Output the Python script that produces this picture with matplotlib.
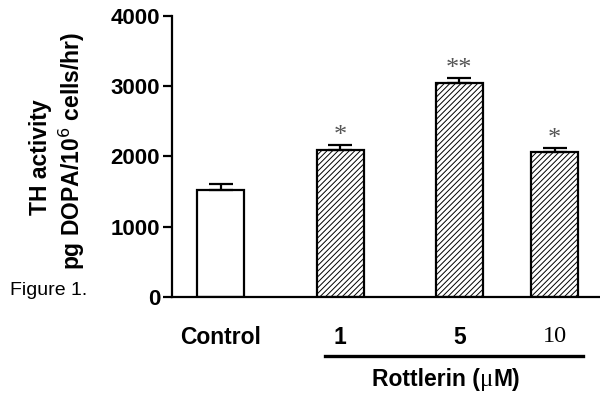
import matplotlib
matplotlib.use("Agg")
import matplotlib.pyplot as plt
from matplotlib import transforms

plt.rcParams['font.family'] = ['Liberation Sans', 'DejaVu Sans']
plt.rcParams['hatch.linewidth'] = 0.7
plt.rcParams['hatch.color'] = '#333333'

groups = ['Control', '1', '5', '10']
activity = [1520, 2090, 3040, 2070]
sem = [95, 77, 76, 47]
stars = ['', '*', '**', '*']
xpos = [0, 1.0, 2.0, 2.8]

fig = plt.figure(figsize=(6.0, 3.93), dpi=100)
ax = fig.add_axes([0.2867, 0.2443, 0.7133, 0.715])

hatches = ['', '//////', '//////', '//////']
for x, v, e, h in zip(xpos, activity, sem, hatches):
    ax.bar(x, v, width=0.395, color='white', edgecolor='black',
           linewidth=1.6, hatch=h, zorder=2)
    ax.errorbar(x, v, yerr=[[0], [e]], fmt='none', ecolor='black',
                elinewidth=1.6, capsize=8.3, capthick=1.6, zorder=3)

# significance marks sit just above each error bar
for x, v, e, s in zip(xpos, activity, sem, stars):
    if s:
        ax.text(x, v + e - 30, s, ha='center', va='bottom', fontsize=19,
                family='Liberation Serif', color='#555555')

ax.set_ylim(0, 4000)
ax.set_xlim(-0.41, 3.18)
ax.set_yticks([0, 1000, 2000, 3000, 4000])
ax.tick_params(axis='y', length=6.5, width=1.6, labelsize=16, pad=2)
for lab in ax.get_yticklabels():
    lab.set_fontweight('bold')

ax.set_xticks(xpos)
ax.set_xticklabels(groups)
ax.tick_params(axis='x', length=0, pad=21, labelsize=16.5)
for lab in ax.get_xticklabels()[:3]:
    lab.set_fontweight('bold')
last = ax.get_xticklabels()[3]
last.set_family('Liberation Serif')
last.set_fontsize(17.5)

for side in ['top', 'right']:
    ax.spines[side].set_visible(False)
ax.spines['left'].set_linewidth(1.6)
ax.spines['bottom'].set_linewidth(1.6)

trans = transforms.blended_transform_factory(ax.transData, ax.transAxes)
ax.plot([0.874, 3.04], [-0.21, -0.21], color='black', linewidth=2.4,
        transform=trans, clip_on=False)
t1 = ax.text(1.27, -0.295, 'Rottlerin (', transform=trans, ha='left',
             va='center', fontsize=16.5, fontweight='bold')
t2 = ax.annotate('\u03bc', xy=(1, 0.5), xycoords=t1, ha='left', va='center',
                 fontsize=18, family='Liberation Serif')
ax.annotate('M)', xy=(1, 0.5), xycoords=t2, ha='left', va='center',
            fontsize=16.5, fontweight='bold')

fig.text(0.067, 0.60, 'TH activity', rotation=90, ha='center', va='center',
         fontsize=16.5, fontweight='bold')
fig.text(0.12, 0.615, 'pg DOPA/10$^6$ cells/hr)', rotation=90, ha='center',
         va='center', fontsize=16.5, fontweight='bold')

fig.text(0.017, 0.26, 'Figure 1.', ha='left', va='center', fontsize=14,
         family=['Liberation Sans Narrow', 'Liberation Sans'])

fig.savefig('out.png', dpi=100)
